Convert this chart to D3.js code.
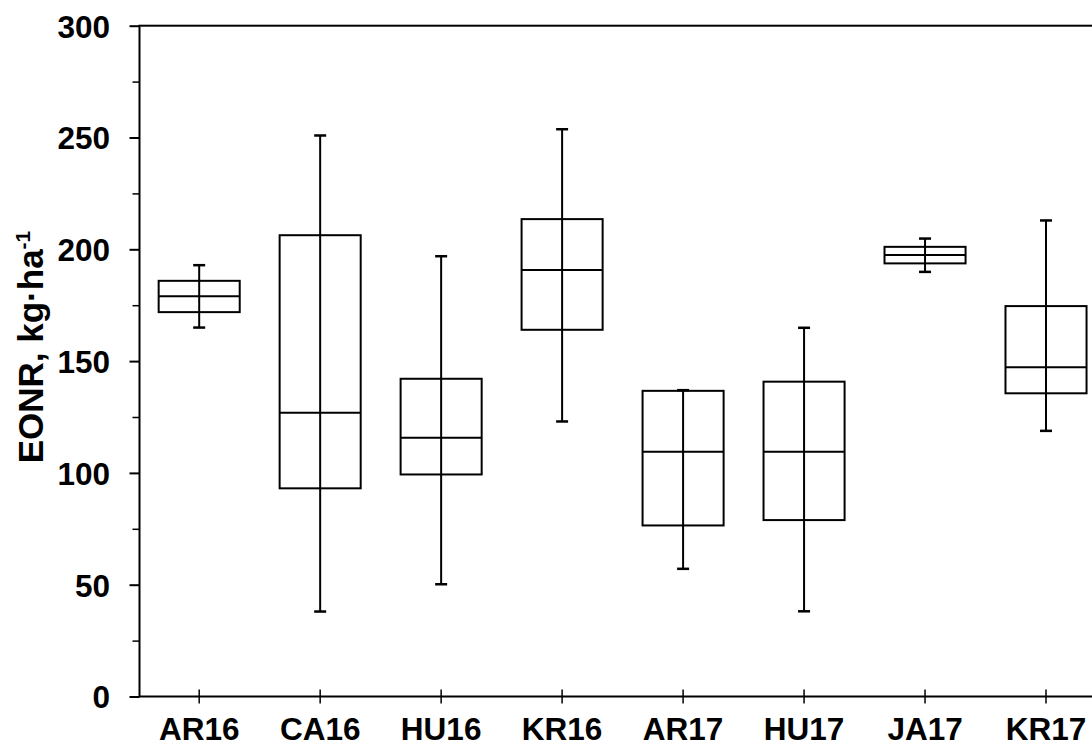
<!DOCTYPE html>
<html>
<head>
<meta charset="utf-8">
<script src="https://cdn.jsdelivr.net/npm/d3@7"></script>
<style>
	body { margin: 0; background: #fff; }
	svg { display: block; }
	text { font-family: Arial, 'Liberation Sans', sans-serif; font-weight: bold; fill: #000; }
</style>
</head>
<body>
<div id="BoxChart"></div>
<script>
// values
var categories  = ["AR16", "CA16", "HU16", "KR16", "AR17", "HU17", "JA17", "KR17"];
var whiskerLow  = [165, 38, 50.2, 123, 57.1, 38.1, 189.9, 118.8];
var q1          = [171.9, 93.1, 99.3, 164, 76.5, 78.9, 193.7, 135.6];
var median      = [179, 126.9, 115.7, 190.7, 109.5, 109.5, 197.4, 147.3];
var q3          = [185.9, 206.3, 142.1, 213.5, 136.7, 140.8, 201.1, 174.6];
var whiskerHigh = [192.9, 250.9, 196.9, 253.7, 137, 164.9, 204.8, 212.9];
var majorTicks  = [0, 50, 100, 150, 200, 250, 300];
var minorTicks  = [25, 75, 125, 175, 225, 275];

var width = 1092;
var height = 748;

var plotLeft = 139.5, plotRight = 1106.5;
var plotTop = 25.7, plotBottom = 696.5;

var svg = d3.select('#BoxChart')
	.append('svg')
	.attr('width', width)
	.attr('height', height);

var x = d3.scaleBand()
	.domain(categories)
	.range([plotLeft - 0.8, plotRight]);

var y = d3.scaleLinear()
	.domain([0, 300])
	.range([plotBottom, plotTop]);

var boxWidth = x.bandwidth() * 0.67;
var capWidth = 12;

var rows = categories.map(function(c, i) {
	return { cat: c, lo: whiskerLow[i], q1: q1[i], med: median[i], q3: q3[i], hi: whiskerHigh[i] };
});

// frame (right side falls outside the window)
svg.append('rect')
	.attr('x', plotLeft)
	.attr('y', plotTop)
	.attr('width', plotRight - plotLeft)
	.attr('height', plotBottom - plotTop)
	.attr('fill', 'none')
	.attr('stroke', '#000')
	.attr('stroke-width', 2);

// y axis
var yAxis = svg.append('g')
	.attr('transform', 'translate(' + plotLeft + ',0)')
	.call(d3.axisLeft(y).tickValues(majorTicks).tickSize(10).tickPadding(19.5));
yAxis.select('.domain').remove();
yAxis.selectAll('line').attr('stroke', '#000').attr('stroke-width', 2);
yAxis.selectAll('text')
	.style('font-size', '31.5px')
	.attr('dy', '0.36em');

var yMinor = svg.append('g')
	.attr('transform', 'translate(' + plotLeft + ',0)')
	.call(d3.axisLeft(y).tickValues(minorTicks).tickSize(7).tickFormat(''));
yMinor.select('.domain').remove();
yMinor.selectAll('line').attr('stroke', '#000').attr('stroke-width', 1.5);

// x axis, ticks cross the line
var xAxis = svg.append('g')
	.attr('transform', 'translate(0,' + plotBottom + ')')
	.call(d3.axisBottom(x).tickSize(7).tickPadding(14));
xAxis.select('.domain').remove();
xAxis.selectAll('line').attr('y1', -7).attr('stroke', '#000').attr('stroke-width', 1.5);
xAxis.selectAll('text')
	.style('font-size', '31.5px')
	.attr('dy', '0.71em');

// y label
var ylab = svg.append('text')
	.attr('transform', 'translate(42.5,347) rotate(-90)')
	.attr('text-anchor', 'middle')
	.style('font-size', '35px');
ylab.append('tspan').text('EONR, kg\u00b7ha');
ylab.append('tspan').attr('dy', '-13').style('font-size', '21px').text('-1');

// boxes
var g = svg.selectAll('.box')
	.data(rows)
	.enter()
	.append('g')
	.attr('class', 'box')
	.attr('transform', function(d) { return 'translate(' + (x(d.cat) + x.bandwidth() / 2) + ',0)'; });

g.append('line')
	.attr('x1', 0).attr('x2', 0)
	.attr('y1', function(d) { return y(d.lo); })
	.attr('y2', function(d) { return y(d.hi); })
	.attr('stroke', '#000').attr('stroke-width', 2);

g.append('rect')
	.attr('x', -boxWidth / 2)
	.attr('width', boxWidth)
	.attr('y', function(d) { return y(d.q3); })
	.attr('height', function(d) { return y(d.q1) - y(d.q3); })
	.attr('fill', 'none')
	.attr('stroke', '#000').attr('stroke-width', 2);

g.append('line')
	.attr('x1', -boxWidth / 2).attr('x2', boxWidth / 2)
	.attr('y1', function(d) { return y(d.med); })
	.attr('y2', function(d) { return y(d.med); })
	.attr('stroke', '#000').attr('stroke-width', 2);

['lo', 'hi'].forEach(function(k) {
	g.append('line')
		.attr('x1', -capWidth / 2).attr('x2', capWidth / 2)
		.attr('y1', function(d) { return y(d[k]); })
		.attr('y2', function(d) { return y(d[k]); })
		.attr('stroke', '#000').attr('stroke-width', 2.5);
});
</script>
</body>
</html>
